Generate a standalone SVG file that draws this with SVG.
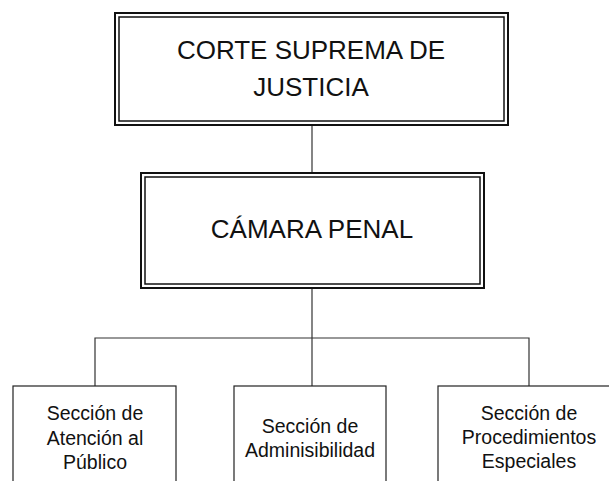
<svg xmlns="http://www.w3.org/2000/svg" width="609" height="481" viewBox="0 0 609 481">
<style>
.o{fill:none;stroke:#111;stroke-width:2}
.i{fill:none;stroke:#111;stroke-width:1.5}
.b{fill:#fff;stroke:#222;stroke-width:1.2}
.c{fill:none;stroke:#333;stroke-width:1.2}
.t1{font-family:"Liberation Sans",Arial,sans-serif;font-size:26px;fill:#111;text-anchor:middle}
.t2{font-family:"Liberation Sans",Arial,sans-serif;font-size:19.5px;fill:#111;text-anchor:middle}
</style>
<rect width="609" height="481" fill="#fff"/>
<g id="connectors">
<line class="c" x1="312" y1="125" x2="312" y2="173"/>
<line class="c" x1="312" y1="288" x2="312" y2="386"/>
<polyline class="c" points="95,386 95,338 529,338 529,386"/>
</g>
<g id="corte">
<rect class="o" x="115" y="13" width="393" height="112"/>
<rect class="i" x="119" y="17" width="385" height="104"/>
<text class="t1" x="311" y="59">CORTE SUPREMA DE</text>
<text class="t1" x="311" y="96">JUSTICIA</text>
</g>
<g id="camara">
<rect class="o" x="141" y="173" width="343" height="115"/>
<rect class="i" x="145" y="177" width="335" height="107"/>
<text class="t1" x="312" y="238">CÁMARA PENAL</text>
</g>
<g id="atencion">
<rect class="b" x="13" y="386" width="163" height="110"/>
<text class="t2" x="95" y="420">Sección de</text>
<text class="t2" x="95" y="445">Atención al</text>
<text class="t2" x="95" y="469">Público</text>
</g>
<g id="admisibilidad">
<rect class="b" x="234" y="386" width="152" height="110"/>
<text class="t2" x="310" y="433">Sección de</text>
<text class="t2" x="310" y="457">Adminisibilidad</text>
</g>
<g id="procedimientos">
<rect class="b" x="438" y="386" width="190" height="110"/>
<text class="t2" x="529" y="420">Sección de</text>
<text class="t2" x="529" y="444">Procedimientos</text>
<text class="t2" x="529" y="468">Especiales</text>
</g>
</svg>
